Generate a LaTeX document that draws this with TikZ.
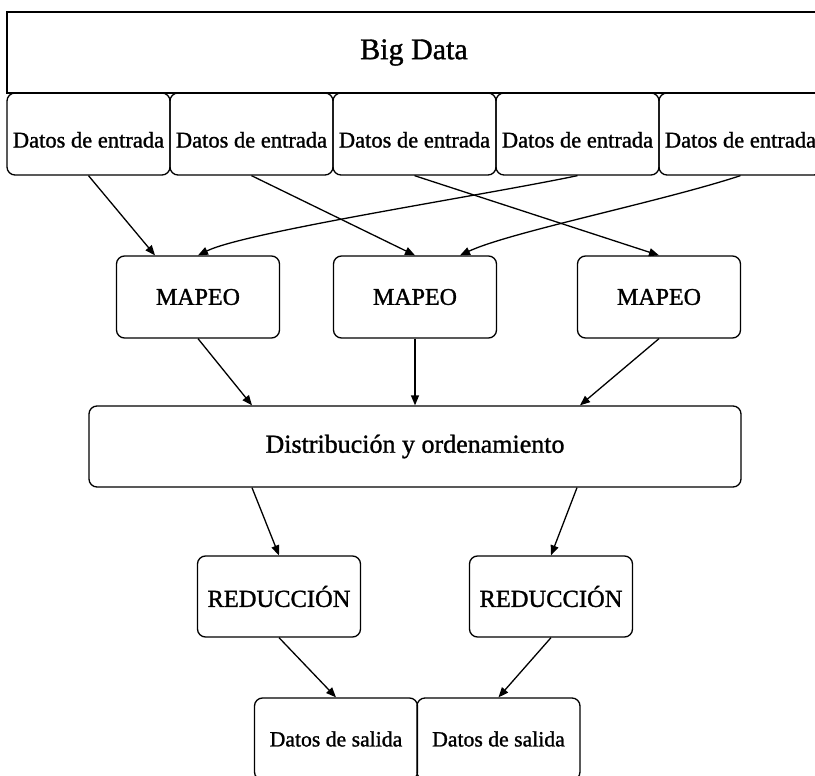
\documentclass[tikz,border=0pt]{standalone}
\usepackage{fontspec}
\setmainfont{Liberation Serif}[FakeBold=1.2]
\usetikzlibrary{arrows.meta}

\begin{document}
\begin{tikzpicture}[x=1pt, y=-1pt, line width=1.3pt,
		caja/.style={draw, rounded corners=8pt, minimum width=163pt, minimum height=82pt, inner sep=0pt},
		entrada/.style={caja, font=\fontsize{22.5}{27}\selectfont, text height=27pt, text depth=0pt},
		proceso/.style={caja, font=\fontsize{24}{29}\selectfont},
		salida/.style={caja, font=\fontsize{21.7}{26}\selectfont},
		flecha/.style={-{Triangle[length=10pt, width=8pt]}}]
				\useasboundingbox (0,0) rectangle (815,776);
				\draw (414,52.5) node[draw, minimum width=814pt, minimum height=81pt, font=\fontsize{30}{36}\selectfont](bigdata){Big Data};
				\draw (88.5,134) node[entrada](ent1){Datos de entrada};
				\draw (251.5,134) node[entrada](ent2){Datos de entrada};
				\draw (414.5,134) node[entrada](ent3){Datos de entrada};
				\draw (577.5,134) node[entrada](ent4){Datos de entrada};
				\draw (740.5,134) node[entrada](ent5){Datos de entrada};
				\draw (198,297) node[proceso](map1){MAPEO};
				\draw (415,297) node[proceso](map2){MAPEO};
				\draw (659,297) node[proceso](map3){MAPEO};
				\draw (415,446.5) node[caja, minimum width=652pt, minimum height=81pt, font=\fontsize{26}{31}\selectfont](dist){Distribución y ordenamiento};
				\draw (279,596.5) node[proceso, minimum height=81pt, font=\fontsize{24.5}{29}\selectfont](red1){REDUCCIÓN};
				\draw (551,596.5) node[proceso, minimum height=81pt, font=\fontsize{24.5}{29}\selectfont](red2){REDUCCIÓN};
				\draw (336,739) node[salida](sal1){Datos de salida};
				\draw (498.5,739) node[salida](sal2){Datos de salida};
				% entradas a mapeo
				\draw[flecha] (ent1.south) -- ([xshift=-43pt]map1.north);
				\draw[flecha] (ent2.south) -- (map2.north);
				\draw[flecha] (ent3.south) -- (map3.north);
				\draw[flecha] (ent4.south) .. controls (480,196) and (245,232) .. (map1.north);
				\draw[flecha] (ent5.south) .. controls (660,202) and (510,232) .. ([xshift=45pt]map2.north);
				% mapeo a distribucion
				\draw[flecha] (map1.south) -- ([xshift=-163pt]dist.north);
				\draw[flecha] (map2.south) -- (dist.north);
				\draw[flecha] (map3.south) -- ([xshift=165pt]dist.north);
				% reduccion y salida
				\draw[flecha] ([xshift=-163pt]dist.south) -- (red1.north);
				\draw[flecha] ([xshift=162pt]dist.south) -- (red2.north);
				\draw[flecha] (red1.south) -- (sal1.north);
				\draw[flecha] (red2.south) -- (sal2.north);
			\end{tikzpicture}
\end{document}
